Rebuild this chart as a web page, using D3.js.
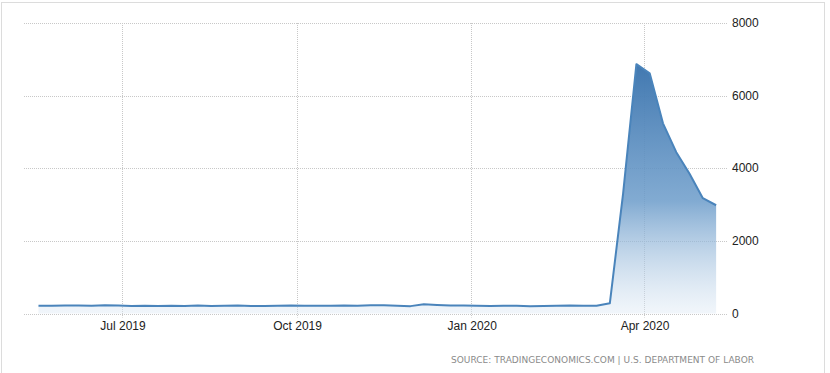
<!DOCTYPE html>
<html>
<head>
<meta charset="utf-8">
<script src="https://cdn.jsdelivr.net/npm/d3@7"></script>
<style>
  body { margin: 0; background: #fff; }
  svg { display: block; font-family: "Liberation Sans", Arial, sans-serif; }
  .grid line { stroke: #c8c8c8; stroke-dasharray: 1,1; }
  .tick-label { font-size: 12px; fill: #222; }
</style>
</head>
<body>
<svg id="chart" width="830" height="373"></svg>
<script>
// weekly initial jobless claims (thousands), week ending dates
const weeks = [
  "2019-05-18","2019-05-25","2019-06-01","2019-06-08","2019-06-15","2019-06-22","2019-06-29",
  "2019-07-06","2019-07-13","2019-07-20","2019-07-27","2019-08-03","2019-08-10","2019-08-17",
  "2019-08-24","2019-08-31","2019-09-07","2019-09-14","2019-09-21","2019-09-28","2019-10-05",
  "2019-10-12","2019-10-19","2019-10-26","2019-11-02","2019-11-09","2019-11-16","2019-11-23",
  "2019-11-30","2019-12-07","2019-12-14","2019-12-21","2019-12-28","2020-01-04","2020-01-11",
  "2020-01-18","2020-01-25","2020-02-01","2020-02-08","2020-02-15","2020-02-22","2020-02-29",
  "2020-03-07","2020-03-14","2020-03-21","2020-03-28","2020-04-04","2020-04-11","2020-04-18",
  "2020-04-25","2020-05-02","2020-05-09"
];
const claims = [
  211, 215, 218, 222, 216, 227, 221,
  209, 216, 206, 215, 209, 220, 209,
  215, 217, 204, 208, 213, 219, 210,
  214, 212, 218, 211, 225, 227, 213,
  203, 252, 234, 222, 222, 214, 204,
  211, 216, 202, 205, 210, 219, 216,
  211, 282, 3307, 6867, 6615, 5237, 4442,
  3846, 3176, 2981
];
const xTicks = ["2019-07-01", "2019-10-01", "2020-01-01", "2020-04-01"];
const xTickLabels = ["Jul 2019", "Oct 2019", "Jan 2020", "Apr 2020"];
const yTicks = [0, 2000, 4000, 6000, 8000];
const sourceText = "SOURCE: TRADINGECONOMICS.COM | U.S. DEPARTMENT OF LABOR";

const parse = d3.timeParse("%Y-%m-%d");
const data = weeks.map((w, i) => ({ date: parse(w), value: claims[i] }));

const svg = d3.select("#chart");

// outer frame
svg.append("rect")
  .attr("x", 1.5).attr("y", 2.5)
  .attr("width", 823).attr("height", 400)
  .attr("fill", "none")
  .attr("stroke", "#dcdcdc");

const x = d3.scaleTime()
  .domain([parse("2019-07-01"), parse("2020-04-01")])
  .range([122, 644]);
const y = d3.scaleLinear()
  .domain([0, 8000])
  .range([313.5, 23]);

const gridLeft = 24, gridRight = 728;

// horizontal grid
const grid = svg.append("g").attr("class", "grid");
grid.selectAll("line.h")
  .data(yTicks)
  .join("line")
  .attr("class", "h")
  .attr("x1", gridLeft).attr("x2", gridRight)
  .attr("y1", d => Math.round(y(d)) + 0.5)
  .attr("y2", d => Math.round(y(d)) + 0.5);

// vertical grid
grid.selectAll("line.v")
  .data(xTicks)
  .join("line")
  .attr("class", "v")
  .attr("x1", d => Math.round(x(parse(d))) + 0.5)
  .attr("x2", d => Math.round(x(parse(d))) + 0.5)
  .attr("y1", y(8000)).attr("y2", y(0) + 4);

// gradient for area
const maxVal = d3.max(claims);
const grad = svg.append("defs").append("linearGradient")
  .attr("id", "areaGrad")
  .attr("gradientUnits", "userSpaceOnUse")
  .attr("x1", 0).attr("x2", 0)
  .attr("y1", y(maxVal)).attr("y2", y(0));
grad.append("stop").attr("offset", "0%").attr("stop-color", "#4178b0").attr("stop-opacity", 1);
grad.append("stop").attr("offset", "55%").attr("stop-color", "#6c9cca").attr("stop-opacity", 0.85);
grad.append("stop").attr("offset", "100%").attr("stop-color", "#dce8f4").attr("stop-opacity", 0.4);

const area = d3.area()
  .x(d => x(d.date))
  .y0(y(0))
  .y1(d => y(d.value));

svg.append("path")
  .datum(data)
  .attr("fill", "url(#areaGrad)")
  .attr("d", area);

const line = d3.line()
  .x(d => x(d.date))
  .y(d => y(d.value));

svg.append("path")
  .datum(data)
  .attr("fill", "none")
  .attr("stroke", "#4a84bb")
  .attr("stroke-width", 2)
  .attr("stroke-linejoin", "round")
  .attr("d", line);

// y labels on the right
svg.append("g").selectAll("text")
  .data(yTicks)
  .join("text")
  .attr("class", "tick-label")
  .attr("x", 732)
  .attr("y", d => y(d) + 4)
  .text(d => d);

// x labels
svg.append("g").selectAll("text")
  .data(xTicks)
  .join("text")
  .attr("class", "tick-label")
  .attr("text-anchor", "middle")
  .attr("x", d => x(parse(d)) + 1)
  .attr("y", 330)
  .text((d, i) => xTickLabels[i]);

// source
svg.append("text")
  .attr("x", 451)
  .attr("y", 363)
  .attr("font-size", 9)
  .attr("font-family", "'DejaVu Sans', sans-serif")
  .attr("fill", "#8a8a8a")
  .attr("textLength", 303)
  .attr("lengthAdjust", "spacing")
  .text(sourceText);
</script>
</body>
</html>
